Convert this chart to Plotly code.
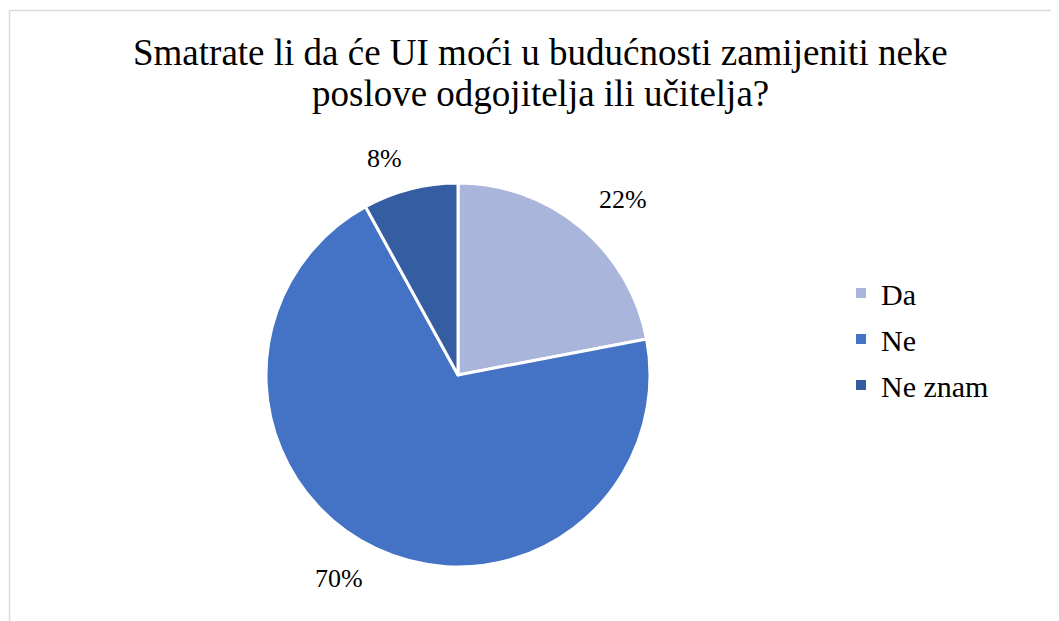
import math
import plotly.graph_objects as go

labels = ["Da", "Ne", "Ne znam"]
values = [22, 70, 8]
colors = ["#A9B5DB", "#4472C4", "#355DA1"]
title_lines = ["Smatrate li da će UI moći u budućnosti zamijeniti neke",
               "poslove odgojitelja ili učitelja?"]

W, H = 1059, 621
FONT = "Liberation Serif"
cx, cy, R = 450, 367, 192  # pie centre/radius in figure pixels (layout)

fig = go.Figure()
fig.add_trace(go.Pie(
    labels=labels, values=values, sort=False, direction="clockwise", rotation=0,
    marker=dict(colors=colors, line=dict(color="white", width=3)),
    textinfo="none", hoverinfo="label+percent", showlegend=False,
    domain=dict(x=[(cx - R) / W, (cx + R) / W], y=[(H - cy - R) / H, (H - cy + R) / H]),
))
# legend entries (same labels / colours as the slices)
for lab, col in zip(labels, colors):
    fig.add_trace(go.Scatter(
        x=[None], y=[None], mode="markers", name=lab, legendgroup=lab,
        marker=dict(symbol="square", size=10, color=col), hoverinfo="skip",
    ))

# Outside percentage labels placed from the data (mid-angle of each slice)
total = sum(values)
cum = 0
ann = []
for v in values:
    mid = (cum + v / 2) / total
    cum += v
    th = 2 * math.pi * mid
    px = cx + (R + 26) * math.sin(th)
    py = cy - (R + 15) * math.cos(th)
    ann.append(dict(
        x=px / W, y=1 - py / H, xref="paper", yref="paper",
        text=f"{round(100 * v / total)}%", showarrow=False,
        xanchor="left" if math.sin(th) > 0 else "right",
        yanchor="bottom" if math.cos(th) > 0 else "top",
        font=dict(family=FONT, size=26, color="#000000"),
    ))

for i, line in enumerate(title_lines):
    ann.append(dict(
        x=532.5 / W, y=1 - (44.5 + 41 * i) / H, xref="paper", yref="paper",
        text=line, showarrow=False, xanchor="center", yanchor="middle",
        font=dict(family=FONT, size=37, color="#000000"),
    ))

fig.update_layout(
    width=W, height=H,
    margin=dict(l=0, r=0, t=0, b=0),
    paper_bgcolor="white", plot_bgcolor="white",
    xaxis=dict(visible=False), yaxis=dict(visible=False),
    legend=dict(x=833 / W, y=1 - 331 / H, xanchor="left", yanchor="middle",
                font=dict(family=FONT, size=30, color="#000000"),
                bgcolor="rgba(0,0,0,0)", itemwidth=30, tracegroupgap=4,
                traceorder="grouped"),
    annotations=ann,
    shapes=[dict(type="rect", xref="paper", yref="paper",
                 x0=1.5 / W, x1=1.05, y0=-0.05, y1=1 - 2.5 / H,
                 line=dict(color="#D9D9D9", width=1.5), fillcolor="rgba(0,0,0,0)")],
)

fig.write_html("out.html")
